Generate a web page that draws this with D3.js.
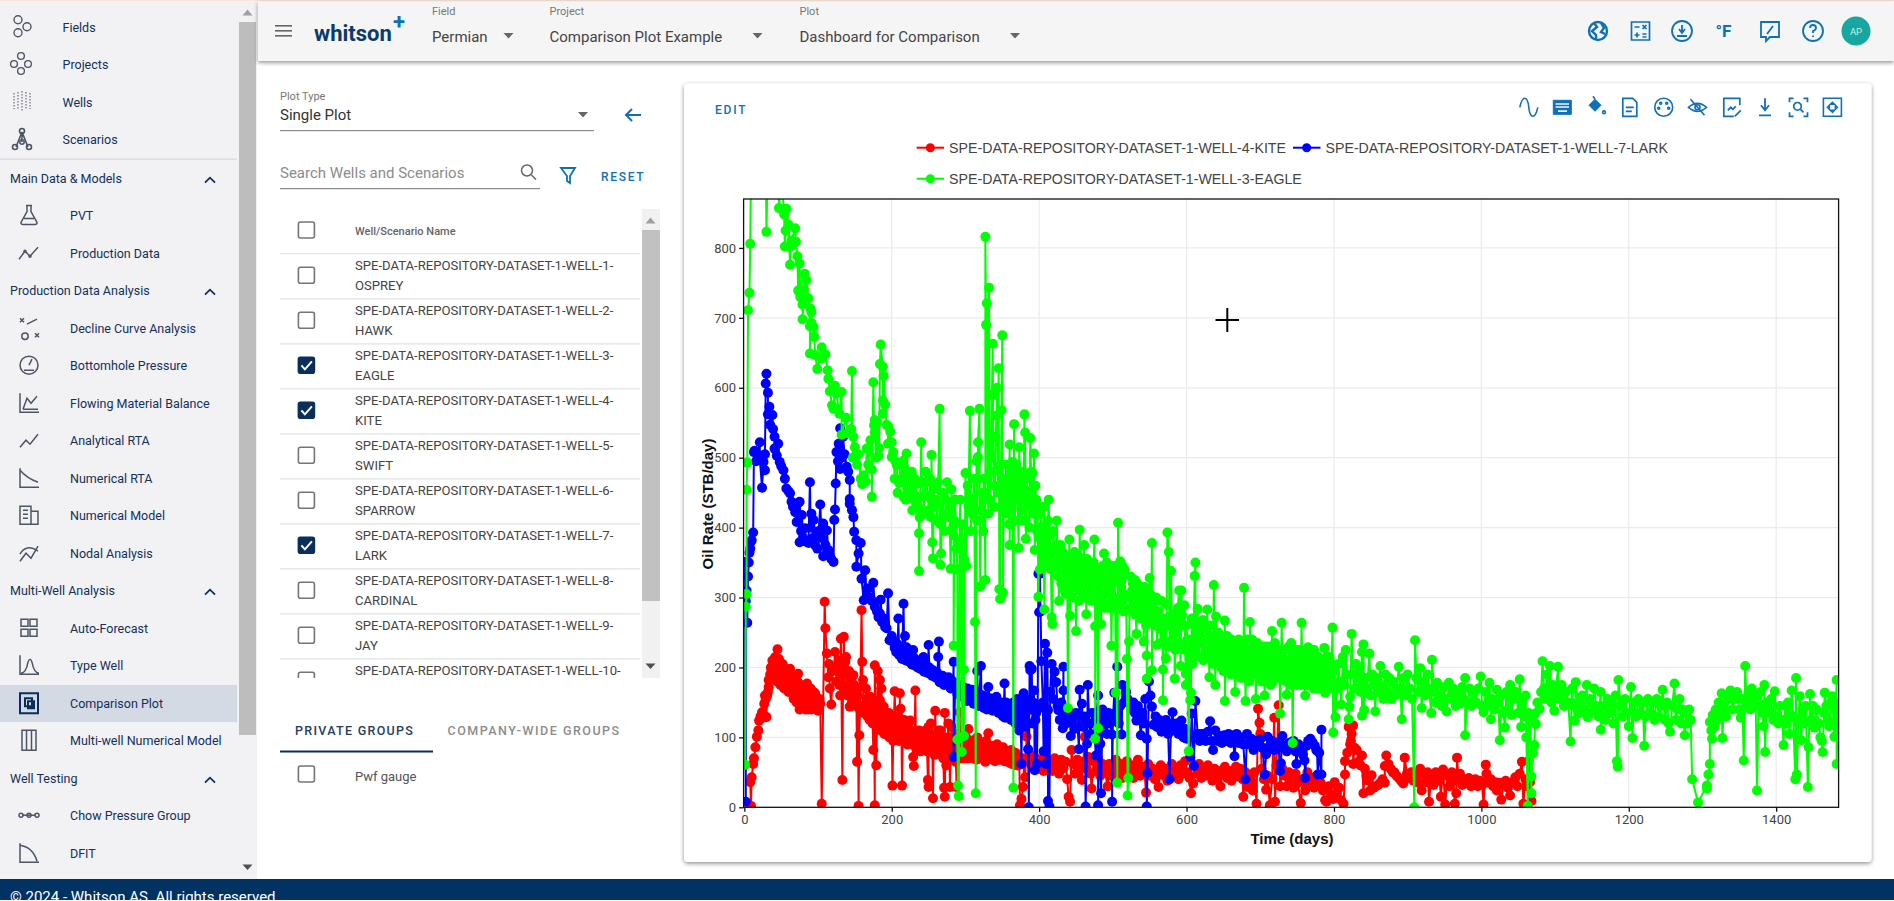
<!DOCTYPE html>
<html>
<head>
<meta charset="utf-8">
<title>Comparison Plot</title>
<script src="https://cdn.jsdelivr.net/npm/d3@7"></script>
<style>
  html, body { margin: 0; padding: 0; background: #fff; overflow: hidden; }
  svg { display: block; font-family: Roboto, sans-serif; }
  .plot-axis text { font-family: Roboto, sans-serif; font-size: 13px; fill: #444; }
  .plot-axis path { display: none; }
  .plot-axis line { stroke: #111; stroke-width: 1.3; }
</style>
</head>
<body>
<script>
// Chart values: [day, oil rate in STB/day]
const kiteA = [[9,2],[8,36],[10,43],[12,62],[13,70],[15,86],[17,101],[19,110],[20,124],[22,130],[24,136],[25,128],[27,148],[29,155],[30,129],[31,160],[33,172],[33,182],[35,190],[37,196],[38,210],[40,205],[42,215],[45,226],[47,212],[48,206],[50,196],[51,186],[53,192],[55,180],[57,186],[59,190],[62,198],[64,180],[66,167],[68,185],[70,172],[73,191],[73,160],[75,140],[77,175],[79,165],[82,158],[84,170],[85,177],[87,140],[89,160],[92,150],[94,165],[96,163],[98,145],[100,138],[102,155],[103,148]];
const kiteB = [[105,5],[109,294],[110,256],[112,220],[114,186],[115,205],[116,170],[118,147],[120,195],[123,222],[125,180],[128,210],[130,205],[130,160],[131,241],[133,39],[135,244],[137,208],[139,191],[141,175],[143,144],[145,185],[148,189],[150,165],[152,155],[153,65],[155,2],[156,103],[159,282],[160,208],[160,172],[161,182],[164,148],[166,155],[168,140],[171,158],[173,130],[175,82],[177,3],[177,203],[179,60],[181,195],[182,140],[184,182],[184,153],[186,170],[187,125],[189,144],[191,118],[193,129],[193,104],[196,135],[199,118],[201,31],[203,125],[204,166],[206,110],[209,130],[211,163],[211,101],[212,141],[214,31],[216,120],[219,105],[222,115],[225,124],[227,98],[229,72],[230,59],[232,167],[234,105],[237,110],[240,90]];
const kiteC = [[243,96],[246,110],[249,39],[250,29],[250,115],[252,95],[254,82],[256,13],[257,100],[259,138],[261,105],[264,85],[266,110],[269,90],[271,28],[272,135],[272,15],[274,60],[276,100],[279,29],[281,115],[283,80],[285,100],[288,29],[290,105],[292,136],[294,85],[296,100],[298,72],[300,95],[302,85],[304,112],[306,78],[308,95],[311,96],[313,72],[316,100],[318,80],[321,92],[323,70],[325,85],[328,95],[331,106],[333,75],[336,88],[338,82],[341,72],[343,90],[346,76],[349,85],[351,86],[354,72],[357,80],[360,70],[362,82],[365,72],[368,78],[371,68],[374,3],[376,12],[378,29],[380,70],[381,43],[383,101],[385,65],[388,75],[390,60],[392,72],[394,58],[396,70]];
const kiteD = [[398,62],[401,55],[403,68],[406,52],[409,70],[412,58],[415,66],[418,52],[421,70],[424,60],[427,48],[430,68],[433,56],[436,65],[438,40],[440,15],[442,8],[444,82],[446,62],[449,48],[452,68],[455,55],[458,39],[460,65],[462,101],[464,55],[467,72],[470,48],[471,27],[474,66],[477,52],[480,70],[483,45],[486,62],[489,52],[493,30],[495,62],[498,45],[501,60],[504,68],[507,50],[510,62],[513,42],[516,58],[519,66],[522,48],[525,60],[528,42],[531,56],[534,68],[537,45],[540,58],[543,50],[545,21],[548,62],[551,45],[554,55],[557,40],[560,52],[562,29],[565,60],[568,46],[571,55],[574,38],[577,52],[580,62],[583,45],[586,56],[589,40],[592,60],[595,48],[598,66],[601,50],[604,42],[606,20],[609,34],[611,60],[614,48],[617,62],[620,42],[623,55],[626,45],[629,60],[632,50],[635,38],[638,55],[641,42],[644,52],[646,30],[649,48],[652,58],[655,42],[658,52],[661,38],[664,50],[667,58],[670,44],[673,55],[676,40],[677,15],[680,50],[682,29],[685,40],[688,35],[690,24],[692,50],[695,5],[697,141],[699,121],[700,105]];
const kiteE = [[702,55],[705,40],[708,25],[710,45],[713,3],[716,40],[719,128],[720,8],[722,60],[725,146],[727,30],[730,55],[733,45],[736,30],[739,50],[742,38],[745,28],[748,48],[751,35],[755,6],[758,40],[761,24],[764,50],[767,36],[770,42],[773,28],[776,44],[779,30],[782,35],[785,24],[788,10],[790,8],[793,30],[796,18],[799,12],[801,36],[804,20],[807,28],[810,10],[813,5],[815,47],[815,66],[818,78],[820,115],[822,90],[823,95],[824,105],[826,117],[826,62],[828,85],[831,82],[833,65],[836,60],[838,74],[840,20],[842,55],[844,45],[847,38],[849,24],[851,46],[854,28],[857,30],[860,32],[863,35],[866,40],[869,35],[869,59],[871,74],[874,62],[877,55],[880,50],[882,50],[885,45],[888,42],[891,38],[894,34],[896,71],[899,48],[902,42],[905,50],[908,38],[911,45],[914,35],[917,55],[919,24],[922,48],[925,36],[927,50],[929,8],[932,45],[935,32],[938,50],[941,38],[943,48],[945,15],[948,54],[951,4],[954,45],[957,30],[960,50],[962,38],[964,5],[966,20],[967,71],[969,40],[971,48],[974,32],[977,40],[980,35],[983,42],[986,30],[989,36],[992,40],[995,30],[998,38],[1001,32],[1003,4],[1006,61],[1007,48],[1010,35],[1013,40],[1016,30],[1019,36],[1021,24],[1024,35],[1027,11],[1030,32],[1033,38],[1036,28],[1039,17],[1042,35],[1046,43],[1049,30],[1052,48],[1055,65],[1057,5],[1060,40],[1062,30],[1064,66],[1066,36],[1068,9]];
const kiteBand1 = [[28,160],[32,165],[36,200],[39,185],[41,195],[43,205],[44,180],[46,195],[49,175],[52,205],[54,170],[56,195],[58,175],[60,165],[61,185],[63,170],[65,190],[67,155],[69,165],[71,150],[72,180],[74,170],[76,155],[78,145],[80,170],[81,150],[83,140],[86,160],[88,145],[90,170],[91,140],[93,155],[95,145],[97,155],[99,150],[101,145]];
const kiteBand2 = [[122,200],[126,195],[129,175],[134,190],[136,170],[138,215],[140,160],[142,195],[144,165],[146,150],[149,175],[151,145],[154,160],[157,140],[162,135],[165,170],[167,130],[169,150],[170,125],[172,145],[174,120],[176,150],[178,135],[180,120],[183,130],[185,110],[188,140],[190,105],[192,125],[195,115],[197,100],[198,130],[200,110],[202,95],[205,125],[207,100],[208,120],[210,95],[213,115],[215,100],[217,125],[218,95],[220,110],[221,90],[223,105],[224,95],[226,110],[228,90],[231,105],[233,85],[235,100],[236,90],[238,105],[239,80]];
const kiteBand3 = [[241,105],[244,85],[245,100],[247,90],[248,80],[251,105],[253,120],[255,90],[258,75],[260,95],[262,80],[263,110],[265,95],[267,75],[268,100],[270,70],[273,95],[275,80],[277,120],[278,85],[280,70],[282,95],[284,75],[286,85],[287,65],[289,90],[291,75],[293,95],[295,70],[297,85],[299,70],[301,100],[303,70],[305,90],[307,75],[309,85],[310,70],[312,90],[314,78],[315,68],[317,90],[319,74],[320,85],[322,72],[324,90],[326,75],[327,65],[329,85],[330,72],[332,88],[334,70],[335,82],[337,68],[339,78],[340,66],[342,80],[344,68],[345,78],[347,68],[348,80],[350,70],[352,78],[353,66],[355,76],[356,66],[358,74],[359,64],[361,72],[363,62],[364,72],[366,62],[367,70],[369,60],[370,72],[372,60],[373,70]];

const larkA = [[1,351],[2,8],[2,295],[3,310],[4,264],[5,330],[6,350],[7,364],[8,370],[9,380],[10,382],[12,393],[13,508],[14,510],[16,495],[18,505],[21,522],[21,498],[24,457],[26,494],[28,482],[28,505],[29,606],[30,620],[32,593],[32,562],[34,573],[35,547],[38,561],[39,541],[41,530],[41,513],[44,503],[46,520],[48,494],[50,488],[53,482],[55,470],[57,456],[60,452],[62,449],[64,437]];
const larkB = [[66,430],[69,422],[71,408],[73,435],[75,379],[75,437],[77,395],[78,418],[80,385],[82,399],[84,380],[87,378],[89,465],[90,400],[91,420],[93,385],[94,411],[96,375],[99,370],[101,395],[103,433],[105,385],[107,406],[107,359],[110,375],[112,396],[114,368],[116,360],[118,355],[121,351],[122,411],[123,426]];
const larkC = [[124,463],[125,508],[127,495],[128,520],[130,542],[130,484],[132,500],[134,530],[136,505],[139,487],[141,480],[143,468],[143,441],[143,434],[146,425],[148,415],[149,394],[152,382],[152,344],[155,363],[158,378],[159,327],[162,296],[164,339],[166,301],[168,313],[171,300],[173,295],[175,321],[177,287],[180,280],[182,272],[184,277],[185,297],[187,265],[189,270],[191,258],[193,256],[195,306],[197,239]];
const larkD = [[200,245],[203,235],[205,228],[207,234],[209,270],[211,222],[213,215],[216,291],[218,245],[220,229],[222,215],[225,222],[227,205],[229,225],[232,210],[235,200],[238,206],[241,198],[243,215],[246,205],[248,195],[250,232],[252,196],[255,188],[258,192],[261,185],[263,215],[264,237],[265,179],[268,186],[271,175],[274,182],[277,186],[280,170],[282,175],[284,208],[284,72],[286,170],[289,162],[291,168],[293,172],[296,158],[299,165],[302,152],[305,160],[308,158],[311,148],[314,155],[316,195],[318,145],[321,202],[323,150],[325,142],[327,158],[329,140],[331,172],[334,148],[337,138],[340,150],[342,158],[345,135],[348,145],[351,130],[353,177],[354,128],[356,148],[359,135],[362,125],[365,150],[368,120],[370,155],[373,110],[376,62],[378,140],[379,163],[381,115],[383,150],[385,83],[386,0],[387,202],[388,196],[390,198],[391,120],[393,167],[394,53],[396,135],[397,62],[399,334],[400,279]];
const larkE = [[401,334],[402,280],[403,209],[405,150],[406,80],[408,234],[409,62],[411,221],[412,139],[412,9],[414,1],[415,165],[417,205],[419,155],[421,194],[423,179],[425,145],[426,139],[428,125],[430,150],[432,113],[433,201],[433,167],[435,130],[437,120],[439,140],[442,129],[443,102],[445,125],[448,112],[450,135],[452,118],[454,83],[455,168],[457,125],[458,148],[460,115],[462,130],[463,1],[465,91],[466,175],[468,120],[470,105],[472,135],[474,120],[477,74],[478,135],[480,160],[480,3],[482,125],[483,91],[484,20],[486,140],[488,118],[490,130],[492,105],[494,135],[496,120],[499,104],[499,8],[500,124],[502,164],[504,135],[506,201],[508,120],[510,145],[512,104],[513,175],[515,150],[518,165]];
const larkF = [[520,155],[523,148],[525,140],[528,150],[530,135],[532,124],[534,145],[536,125],[538,103],[540,135],[542,120],[544,155],[546,98],[546,1],[547,49],[549,180],[551,160],[553,144],[555,118],[558,130],[560,115],[563,125],[566,108],[569,115],[572,125],[575,105],[577,40],[579,118],[581,136],[583,110],[586,120],[589,105],[591,115],[593,124],[596,100],[598,112],[600,98],[602,105],[605,72],[607,134],[610,59],[612,152],[615,105],[618,95],[620,105],[623,105],[626,95],[629,108],[632,123],[634,95],[636,82],[639,110],[642,95],[645,102],[648,92],[651,103],[654,95],[657,105],[660,92],[663,100],[665,73],[668,105],[671,92],[674,100],[677,90],[680,40],[682,105],[685,90],[688,98],[691,82],[694,95],[697,88],[700,97],[703,85],[706,47],[708,76],[710,101],[713,88],[716,95],[719,82],[722,92],[725,85],[727,52],[728,63],[730,102],[733,88],[736,80],[739,92],[742,85],[745,95],[748,80],[749,62],[752,90],[755,82],[758,75],[760,67],[761,42],[763,88],[765,95],[768,98],[771,93],[774,88],[776,82],[777,81],[778,47],[780,78],[783,47],[783,111]];
const larkBand = [[201,240],[204,228],[206,222],[208,232],[210,218],[212,226],[214,212],[217,220],[219,210],[221,222],[224,208],[226,216],[228,204],[230,214],[233,202],[236,210],[239,198],[242,206],[244,194],[247,202],[249,192],[251,200],[253,190],[256,196],[259,186],[262,192],[266,180],[269,188],[272,178],[275,184],[278,174],[281,182],[283,172],[287,178],[290,165],[292,175],[294,162],[297,172],[300,160],[303,170],[306,158],[309,168],[312,155],[315,165],[317,152],[319,162],[322,150],[324,160],[326,148],[328,158],[330,146],[333,156],[335,144],[338,154],[341,142],[343,152],[346,140],[349,150],[352,140],[355,150],[357,138],[360,148],[363,136],[366,146],[369,132],[372,145],[375,125],[377,150],[380,130],[382,155],[384,120],[389,140],[392,150],[395,125],[398,140]];

const eagleA = [[1,61],[2,287],[3,305],[3,454],[4,493],[5,711],[7,736],[8,806],[9,905],[14,990],[22,1010],[29,930],[30,823],[32,930],[41,960],[46,900],[47,857],[49,885],[52,880],[54,848],[56,825],[55,802],[57,856],[60,833],[62,776],[63,802],[64,811],[69,828],[70,809],[72,788],[73,739],[75,778],[76,730],[79,719],[79,698],[81,741],[82,763],[84,754],[87,728],[89,688],[89,649],[90,713],[91,708],[91,693],[94,687],[95,673],[96,647],[99,627],[105,658],[105,642],[110,648]];
const eagleB = [[113,625],[114,613],[116,595],[119,575],[121,570],[123,603],[125,592],[129,563],[132,594],[132,533],[138,557],[140,535],[145,541],[146,624],[147,500],[148,530],[150,515],[153,490],[155,505],[158,470],[160,462],[162,475],[165,466],[166,513],[168,490],[171,525],[173,483],[173,444],[175,608],[176,546],[177,536],[177,554],[179,500],[180,551],[182,503],[183,514],[184,634],[185,662],[188,630],[188,582],[188,563],[189,617],[191,576],[193,547],[195,545],[195,520],[198,537],[200,522],[200,501]];
const eagleC = [[202,508],[205,495],[207,489],[210,464],[213,470],[216,496],[216,444],[218,485],[220,506],[223,455],[227,480],[230,440],[233,462],[236,430],[237,392],[237,338],[240,522],[243,445],[247,465],[250,425],[254,504],[255,379],[256,356],[258,440],[262,410],[265,570],[266,347],[267,363],[270,420],[274,439],[277,415],[280,341],[283,400],[284,389],[284,231],[286,440],[288,370],[289,340],[289,97],[290,31],[291,16],[292,380],[295,79],[298,102],[298,197],[299,354],[300,478],[301,345],[304,430],[306,567],[309,420],[313,265],[314,20],[315,495],[317,501],[317,522],[319,570],[320,316],[323,450],[325,470],[327,325],[327,816],[328,690],[329,721],[331,420],[332,743],[334,480],[336,590],[337,663],[339,430],[341,530],[343,600],[345,628],[346,312],[347,298],[349,568],[350,675],[351,307],[353,460],[356,430],[358,490],[360,519],[360,375],[362,440],[364,494],[365,28],[366,548],[368,450],[370,470],[372,371],[373,515],[375,411],[377,460],[379,440],[380,562],[381,536],[382,384],[384,450],[386,430],[388,528],[390,455],[391,478],[393,506],[394,368],[396,440],[399,301]];
const eagleD = [[400,385],[402,420],[404,360],[406,430],[407,283],[409,400],[411,350],[413,440],[415,390],[417,272],[418,262],[420,370],[422,345],[424,410],[426,330],[427,295],[429,375],[431,340],[433,352],[435,310],[437,360],[439,142],[441,383],[442,274],[444,345],[446,320],[448,365],[450,252],[452,335],[453,360],[455,397],[457,310],[459,345],[461,375],[464,276],[466,330],[468,350],[470,300],[472,340],[475,383],[476,259],[476,98],[478,300],[480,113],[481,330],[484,262],[486,345],[488,363],[490,305],[492,350],[494,290],[496,335],[498,231],[500,320],[502,345],[504,164],[506,35],[507,407],[509,300],[510,352],[512,325],[514,280],[516,340],[518,300],[519,212],[520,17],[521,42],[522,237],[524,330],[526,310],[528,290],[530,325],[532,248],[534,300],[536,280],[538,315],[540,295],[542,237],[544,275],[546,217],[546,184],[548,290],[550,328],[552,270],[553,378],[553,196],[555,285],[557,260],[559,300]];
const eagleE = [[560,232],[562,280],[564,255],[566,295],[568,197],[568,153],[570,270],[572,213],[574,393],[576,365],[578,260],[579,338],[581,240],[583,275],[584,184],[586,250],[588,285],[590,310],[592,202],[593,310],[595,260],[597,289],[599,191],[599,175],[601,240],[603,80],[605,153],[606,164],[608,205],[610,270],[611,331],[612,350],[612,225],[614,255],[615,284],[617,235],[619,260],[621,215],[622,268],[624,240],[625,221],[627,255],[628,283],[630,225],[631,186],[633,245],[635,215],[637,318],[639,175],[640,273],[642,235],[644,205],[646,245],[648,220],[650,195],[652,267],[652,152],[654,230],[656,205],[658,240],[660,190],[662,225],[664,205],[666,165],[668,235],[670,200],[672,225],[674,185],[676,215],[678,314],[680,152],[682,240],[684,205],[686,265],[688,190],[690,225],[692,200],[694,155],[696,235],[698,195],[700,220],[702,180],[704,210],[706,160],[708,230],[710,190],[712,215],[714,175],[716,252],[716,178],[718,205],[720,235],[722,185],[724,215],[726,195],[727,134],[729,264],[731,200],[733,225],[735,180],[736,161],[738,210],[740,190],[742,235],[744,92],[746,195],[748,225],[750,175],[752,215],[754,190],[756,264],[758,205],[760,175],[761,160],[763,220],[765,229],[767,185],[769,210],[771,180],[773,225],[775,195],[777,170],[779,215],[781,185],[783,205],[785,175],[787,228],[788,164],[790,200],[792,175],[794,215],[796,185],[798,257],[799,107]];
const eagleF = [[800,195],[802,129],[804,170],[806,205],[808,180],[810,147],[812,215],[814,175],[816,225],[818,190],[820,126],[821,144],[822,158],[824,248],[826,190],[828,170],[830,205],[832,180],[834,195],[836,165],[838,222],[838,131],[840,233],[841,139],[843,185],[845,170],[848,220],[850,160],[852,190],[854,175],[856,137],[858,185],[860,165],[863,202],[865,175],[867,155],[870,190],[872,165],[875,185],[878,155],[881,180],[884,160],[888,201],[890,170],[892,126],[894,185],[897,160],[900,190],[903,170],[906,155],[909,0],[910,239],[912,185],[914,165],[917,199],[919,142],[921,180],[924,160],[927,190],[929,170],[932,135],[933,211],[936,165],[938,150],[940,178],[943,160],[946,145],[949,172],[951,155],[953,137],[956,178],[959,155],[962,170],[965,145],[968,165],[971,148],[974,172],[976,155],[978,185],[978,103],[981,150],[984,170],[987,145],[990,165],[993,150],[996,170],[999,187],[1001,145],[1003,136],[1006,165],[1008,145],[1011,178],[1013,126],[1015,155],[1018,140],[1021,168],[1023,150],[1025,96],[1028,160],[1030,135],[1032,114],[1034,165],[1036,140],[1039,175],[1041,132],[1044,155],[1047,165],[1050,135],[1052,183],[1054,115],[1056,150],[1058,130],[1060,160],[1061,100],[1063,2],[1064,135],[1066,125],[1068,20],[1068,44],[1070,77],[1072,89],[1073,134],[1074,119],[1076,150],[1079,141],[1081,165],[1083,209]];
const eagleG = [[1085,170],[1087,155],[1089,190],[1091,160],[1093,202],[1095,150],[1097,175],[1099,138],[1101,165],[1104,201],[1106,155],[1109,175],[1112,145],[1115,165],[1118,150],[1121,94],[1123,170],[1125,145],[1127,124],[1128,179],[1131,150],[1134,135],[1137,160],[1140,140],[1143,175],[1144,129],[1147,155],[1150,135],[1153,170],[1156,145],[1159,130],[1162,165],[1162,111],[1165,145],[1168,125],[1171,155],[1174,135],[1177,150],[1179,120],[1182,160],[1184,66],[1185,58],[1186,182],[1189,145],[1192,130],[1195,155],[1198,135],[1200,116],[1203,172],[1205,99],[1207,150],[1210,130],[1213,155],[1216,135],[1219,150],[1221,88],[1223,130],[1226,155],[1229,135],[1232,150],[1235,125],[1238,155],[1241,130],[1244,145],[1246,168],[1249,125],[1252,150],[1254,120],[1256,108],[1259,145],[1262,177],[1264,125],[1266,140],[1269,155],[1271,120],[1273,140],[1276,103],[1278,135],[1280,120],[1282,140],[1284,125],[1286,40],[1294,7]];
const eagleH = [[1306,31],[1306,27],[1308,47],[1310,62],[1310,122],[1312,110],[1313,98],[1314,132],[1316,115],[1318,140],[1320,125],[1322,150],[1324,135],[1326,163],[1327,99],[1329,145],[1332,130],[1335,155],[1338,167],[1341,140],[1344,155],[1347,165],[1350,140],[1352,128],[1354,155],[1356,67],[1358,202],[1360,145],[1363,160],[1365,140],[1367,170],[1370,150],[1372,160],[1374,24],[1376,145],[1379,165],[1381,135],[1383,116],[1384,175],[1385,79],[1387,150],[1390,135],[1393,155],[1396,125],[1398,166],[1400,130],[1403,120],[1405,145],[1408,125],[1410,89],[1412,145],[1414,120],[1416,150],[1418,105],[1421,167],[1423,130],[1426,40],[1427,185],[1428,47],[1430,120],[1432,159],[1434,96],[1436,140],[1438,120],[1440,145],[1443,29],[1444,86],[1446,162],[1448,125],[1450,145],[1452,114],[1455,140],[1458,120],[1460,100],[1462,95],[1463,79],[1465,135],[1466,164],[1468,145],[1470,125],[1472,116],[1474,150],[1476,159],[1478,120],[1479,101],[1481,140],[1482,182],[1482,62],[1484,130],[1486,150]];
const eagleBand1 = [[204,470],[208,450],[212,490],[215,465],[219,440],[222,475],[225,450],[228,425],[231,470],[234,445],[238,415],[241,465],[244,420],[246,480],[249,445],[252,470],[253,415],[257,455],[260,430],[263,465],[266,405],[269,450],[272,395],[275,465],[278,430],[281,455],[285,410],[293,440],[296,405],[303,460],[307,395],[310,440],[312,470],[316,410],[321,425],[324,395],[326,450],[330,470],[333,440],[335,500],[338,480],[340,460],[342,560],[344,450],[347,490],[348,430],[352,470],[354,420],[355,490],[357,450],[359,405],[361,480],[363,430],[366,470],[367,410],[369,490],[371,440],[374,460],[376,425],[378,480],[380,410],[383,470],[385,440],[387,400],[389,480],[392,420],[395,460],[397,395],[398,430]];
const eagleBand2 = [[401,340],[403,400],[405,375],[408,350],[410,385],[412,410],[414,365],[416,340],[419,395],[421,355],[423,375],[425,345],[428,360],[430,320],[432,365],[434,335],[436,305],[438,345],[440,320],[443,360],[445,300],[447,340],[449,315],[451,350],[454,295],[456,335],[458,310],[460,350],[462,300],[463,330],[465,355],[467,305],[469,335],[471,295],[473,325],[474,350],[477,310],[479,340],[482,295],[483,320],[485,300],[487,330],[489,285],[491,325],[493,310],[495,285],[497,345],[499,300],[501,285],[503,325],[505,290],[508,335],[511,295],[513,345],[515,305],[517,285],[523,300],[525,280],[527,320],[529,300],[531,275],[533,320],[535,295],[537,270],[539,305],[541,280],[543,315],[545,260],[547,300],[549,275],[551,305],[554,265],[556,300],[558,270]];
const eagleBand3 = [[561,265],[565,235],[569,260],[573,290],[577,230],[580,275],[585,225],[587,265],[591,235],[594,275],[598,225],[600,260],[604,240],[607,270],[609,225],[613,245],[616,215],[618,255],[620,235],[623,210],[626,240],[629,215],[632,260],[634,230],[636,205],[638,245],[641,215],[643,250],[645,225],[647,200],[649,240],[651,215],[653,195],[655,245],[657,220],[659,200],[661,240],[663,195],[665,225],[667,190],[669,215],[671,240],[673,195],[675,230],[677,190],[679,220],[681,200],[683,225],[685,180],[687,215],[689,240],[691,190],[693,220],[695,195],[697,215],[699,185],[701,205],[703,230],[705,190],[707,215],[709,200],[711,185],[713,230],[715,200],[717,225],[719,185],[721,215],[723,195],[725,225],[728,185],[730,215],[732,190],[734,210],[737,195],[739,230],[741,175],[743,205],[745,215],[747,180],[749,205],[751,190],[753,225],[755,175],[757,210],[759,190],[762,200],[764,175],[766,205],[768,190],[770,220],[772,170],[774,205],[776,185],[778,195],[780,170],[782,210],[784,190],[786,200],[789,180],[791,215],[793,190],[795,170],[797,205]];

const seriesNames = ["SPE-DATA-REPOSITORY-DATASET-1-WELL-4-KITE", "SPE-DATA-REPOSITORY-DATASET-1-WELL-7-LARK", "SPE-DATA-REPOSITORY-DATASET-1-WELL-3-EAGLE"];
const seriesColors = ["#ff0000", "#0000ff", "#00ff00"];
const seriesValues = [
    [kiteA, kiteB, kiteC, kiteD, kiteE, kiteBand1, kiteBand2, kiteBand3].flat(),
    [larkA, larkB, larkC, larkD, larkE, larkF, larkBand].flat(),
    [eagleA, eagleB, eagleC, eagleD, eagleE, eagleF, eagleG, eagleH, eagleBand1, eagleBand2, eagleBand3].flat()
].map(values => values.sort((a, b) => a[0] - b[0]));
const xTicks = [0, 200, 400, 600, 800, 1000, 1200, 1400];
const yTicks = [0, 100, 200, 300, 400, 500, 600, 700, 800];

// Menu and table texts of the surrounding app
const topMenu = [["Fields", 27.7], ["Projects", 64.7], ["Wells", 102], ["Scenarios", 139.7]];
const menuHeads = [["Main Data & Models", 178.7], ["Production Data Analysis", 290.7], ["Multi-Well Analysis", 590.7], ["Well Testing", 778.7]];
const menuItems = [["PVT", 215, "pvt"], ["Production Data", 253.7, "trend"], ["Decline Curve Analysis", 328.7, "dca"], ["Bottomhole Pressure", 365.7, "gauge"], ["Flowing Material Balance", 403.7, "fmb"], ["Analytical RTA", 440.7, "trend2"], ["Numerical RTA", 478.7, "nrta"], ["Numerical Model", 515.7, "grid3"], ["Nodal Analysis", 553.7, "nodal"], ["Auto-Forecast", 628.7, "squares"], ["Type Well", 665.7, "bell"], ["Comparison Plot", 703.7, "compare"], ["Multi-well Numerical Model", 740.7, "columns"], ["Chow Pressure Group", 815.7, "chow"], ["DFIT", 853.7, "dfit"]];
const wellRows = [["1-", "OSPREY", 0], ["2-", "HAWK", 0], ["3-", "EAGLE", 1], ["4-", "KITE", 1], ["5-", "SWIFT", 0], ["6-", "SPARROW", 0], ["7-", "LARK", 1], ["8-", "CARDINAL", 0], ["9-", "JAY", 0], ["10-", "", 0]];

// Define variables
const width = 1894, height = 901;
const plot = {left: 743.6, right: 1838.6, top: 199, bottom: 807.3};
const navy = "#0b2f5b", blue = "#0e70b8", menuText = "#12305a", iconGrey = "#4d5564";

const svg = d3.select("body").append("svg").attr("width", width).attr("height", height);

function rect(p, x, y, w, h, fill) {
    return p.append("rect").attr("x", x).attr("y", y).attr("width", w).attr("height", h).attr("fill", fill);
}
function label(p, str, x, y, size, color, weight) {
    return p.append("text").attr("x", x).attr("y", y).attr("dominant-baseline", "central")
        .attr("font-size", size).attr("fill", color).attr("font-weight", weight || 400).text(str);
}
function tri(p, x, y, color, up) {
    const d = up ? "M-5,3L5,3L0,-3Z" : "M-5,-2.5L5,-2.5L0,3Z";
    p.append("path").attr("transform", `translate(${x},${y})`).attr("d", d).attr("fill", color);
}
function chevron(p, x, y) {
    p.append("path").attr("transform", `translate(${x},${y})`).attr("d", "M-5,3L0,-2L5,3").attr("fill", "none").attr("stroke", navy).attr("stroke-width", 1.8);
}
function checkbox(p, x, y, checked) {
    p.append("rect").attr("x", x - 8).attr("y", y - 8).attr("width", 16).attr("height", 16).attr("rx", 2)
        .attr("fill", checked ? navy : "#fff").attr("stroke", checked ? navy : "#757575").attr("stroke-width", 1.6);
    if (checked) p.append("path").attr("d", `M${x-5},${y}L${x-1.5},${y+4}L${x+5.5},${y-4}`).attr("fill", "none").attr("stroke", "#fff").attr("stroke-width", 2);
}
// draws a small icon from line paths and circles, centred on x,y
function icon(p, x, y, color, lines, circles, width_, filled) {
    const g = p.append("g").attr("transform", `translate(${x},${y})`).attr("fill", "none").attr("stroke", color).attr("stroke-width", width_ || 1.5);
    (lines || []).forEach(d => g.append("path").attr("d", d));
    (circles || []).forEach(c => g.append("circle").attr("cx", c[0]).attr("cy", c[1]).attr("r", c[2]));
    if (filled) g.attr("fill", color);
    return g;
}

//////////////////////////////////////////////////////////////////////////////////////////
//                                        App frame                                     //
//////////////////////////////////////////////////////////////////////////////////////////

const defs = svg.append("defs");
const shadow = defs.append("filter").attr("id", "shadow").attr("x", "-5%").attr("y", "-5%").attr("width", "110%").attr("height", "115%");
shadow.append("feDropShadow").attr("dx", 0).attr("dy", 1.5).attr("stdDeviation", 2).attr("flood-color", "#000").attr("flood-opacity", 0.45);
defs.append("clipPath").attr("id", "plotClip").append("rect").attr("x", plot.left).attr("y", plot.top).attr("width", plot.right - plot.left).attr("height", plot.bottom - plot.top);
defs.append("clipPath").attr("id", "tableClip").append("rect").attr("x", 280).attr("y", 209).attr("width", 362).attr("height", 469);
defs.append("clipPath").attr("id", "footClip").append("rect").attr("x", 0).attr("y", 879).attr("width", width).attr("height", 21);

rect(svg, 0, 0, width, height, "#fff");
rect(svg, 0, 0, width, 1.5, "#f9e5d9");

// Sidebar
const side = svg.append("g");
rect(side, 0, 1, 257, 878, "#f2f2f4");
rect(side, 0, 685, 237, 37, "#d4dae4");
rect(side, 0, 158.5, 237, 1.2, "#d9d9dc");
rect(side, 239, 22, 17, 713, "#bdbdbd");
tri(side, 247.5, 12.5, "#a0a0a0", true);
tri(side, 247.5, 867, "#505050", false);
topMenu.forEach(d => label(side, d[0], 62.5, d[1], 12.5, menuText));
menuHeads.forEach(d => {
    label(side, d[0], 10, d[1], 12.5, menuText);
    chevron(side, 210, d[1] + 1);
});
menuItems.forEach(d => label(side, d[0], 70, d[1], 12.5, menuText));

// Sidebar icons
icon(side, 22, 26.7, iconGrey, [], [[-4,-7,4],[5,0,4],[-4,6,4]], 1.4);
icon(side, 21, 64, iconGrey, [], [[0,-8,3.4],[-7,0,3.4],[7,0,3.4],[0,7,3.4]], 1.3);
const wellDots = icon(side, 22, 101, "#8a8f99", ["M-8,-8V8M-4,-9V9M0,-10V10M4,-9V9M8,-8V8"], [], 1.6);
wellDots.attr("stroke-dasharray", "1.5 1.5");
icon(side, 22, 139, iconGrey, ["M0,-7L-6,8M0,-7L6,8M0,-7V3"], [[0,-8,2.5],[-7,8,2.5],[7,8,2.5],[0,3,2.2]], 1.6);
const menuIcons = {
    pvt: [["M-3,-9H3M-2,-9V-3L-8,8Q-8,10 -6,10H6Q8,10 8,8L2,-3V-9M-5,4H5"], []],
    trend: [["M-10,6L-4,-2L1,3L9,-6"], [[-4,-2,1],[1,3,1]]],
    dca: [["M-9,-10L-5,-6M-5,-10L-9,-6M6,5L10,9M10,5L6,9M-2,-4L8,-9"], [[-4,8,3.2]]],
    gauge: [["M0,0L3,-6M-5,5H5"], [[0,0,9]]],
    fmb: [["M-9,-10V9H10M-6,6L-2,-5L2,0L8,-7M-6,6H9"], []],
    trend2: [["M-9,7L-3,0L1,4L9,-6"], []],
    nrta: [["M-9,-10V9H10M-9,-8Q-2,0 9,4"], []],
    grid3: [["M-9,9V-9H2V9ZM2,-4H9V9H2M-6,-5H-1M-6,-1H-1M-6,3H-1"], []],
    nodal: [["M-9,1Q-3,-10 9,-2M-9,8L-3,0L2,5L9,-7"], []],
    squares: [["M-8,-9H-1V-2H-8ZM1,-9H8V-2H1ZM-8,1H-1V8H-8ZM1,1H8V8H1Z"], []],
    bell: [["M-9,-10V9H10M-8,8Q-3,8 -1,-3Q1,-9 3,-3Q5,8 10,8"], []],
    compare: [["M-9,-10H9V10H-9ZM-4,-5H3V3H-4ZM-1,-2H5V5H-1Z"], []],
    columns: [["M-7,-10H7V10H-7ZM-2.5,-10V10M2.5,-10V10"], []],
    chow: [["M-7,0H7"], [[-8,0,2],[0,0,2],[8,0,2]]],
    dfit: [["M-9,-10V9H10M-9,-8Q4,-6 8,8"], []]
};
menuItems.forEach(d => {
    const ic = menuIcons[d[2]];
    icon(side, 29, d[1] - 0.5, d[2] === "compare" ? navy : iconGrey, ic[0], ic[1], d[2] === "compare" ? 2 : 1.5);
});

// Header bar
const head = svg.append("g");
rect(head, 258, 1.5, width - 258, 59.5, "#f5f5f5").attr("filter", "url(#shadow)");
rect(head, 275, 25, 17, 1.6, "#666");
rect(head, 275, 30, 17, 1.6, "#666");
rect(head, 275, 35, 17, 1.6, "#666");
label(head, "whitson", 314, 33, 22, "#0a3a6c", 700);
label(head, "+", 399, 21, 22, "#0e70b8", 700).attr("text-anchor", "middle");
label(head, "Field", 432, 11.5, 11, "#777");
label(head, "Project", 549.5, 11.5, 11, "#777");
label(head, "Plot", 799.5, 11.5, 11, "#777");
label(head, "Permian", 432, 37, 15, "#444");
label(head, "Comparison Plot Example", 549.5, 37, 15, "#444");
label(head, "Dashboard for Comparison", 799.5, 37, 15, "#444");
tri(head, 508.5, 35.5, "#666");
tri(head, 757.5, 35.5, "#666");
tri(head, 1015, 35.5, "#666");

// Header icons
icon(head, 1598, 31, blue, ["M-4,-8L-1,-4L-6,0L-2,4V8M3,-8L6,-3L3,1L7,3"], [[0,0,9]], 2.4);
icon(head, 1640.5, 31, blue, ["M-9,-9H9V9H-9ZM-6,-4H-1M2,-6L6,-2M6,-6L2,-2M-6,4H-1M-3.5,1.5V6.5M2,3H6M2,6H6"], [], 1.7);
icon(head, 1682, 31, blue, ["M0,-6V1M-3,-2L0,2L3,-2M-5,5H5"], [[0,0,10]], 1.8);
label(head, "°F", 1715.5, 31, 17, blue, 700);
icon(head, 1770, 31, blue, ["M-9,-9H9V6H0L-4,10V6H-9ZM-3,3L3,-5"], [], 1.8);
icon(head, 1813, 31, blue, ["M-3,-3Q-3,-6 0,-6Q3,-6 3,-3Q3,-1 0,0V2M0,4.5V6"], [[0,0,10]], 1.8);
head.append("circle").attr("cx", 1856).attr("cy", 31).attr("r", 14.5).attr("fill", "#17a79e");
label(head, "AP", 1856, 31, 9.5, "#cfeeee").attr("text-anchor", "middle");

// Well selection panel
const panel = svg.append("g");
label(panel, "Plot Type", 280, 96, 11, "#777");
label(panel, "Single Plot", 280, 115, 15, "#333");
rect(panel, 280, 130, 314, 1.2, "#8a8a8a");
tri(panel, 583, 114.5, "#666");
icon(panel, 633, 115, blue, ["M8,0H-7M-1,-6L-7,0L-1,6"], [], 2);
label(panel, "Search Wells and Scenarios", 280, 173, 15, "#8c8c8c");
rect(panel, 280, 188, 260, 1.2, "#8a8a8a");
icon(panel, 528, 171.5, "#666", ["M3.5,3.5L8,8"], [[-1,-1,5.5]], 1.5);
icon(panel, 568, 175, blue, ["M-7,-7H7L2,1V8L-1,6V1Z"], [], 1.8);
label(panel, "RESET", 601, 177, 12, blue, 500).attr("letter-spacing", "1.7px");

// Table with its scrollbar
rect(panel, 642, 209, 18, 469, "#f1f1f1");
rect(panel, 642, 230, 18, 371, "#c1c1c1");
tri(panel, 650.5, 220.5, "#a0a0a0", true);
tri(panel, 650.5, 666, "#505050", false);
checkbox(panel, 306.4, 230, false);
label(panel, "Well/Scenario Name", 355, 231, 11, "#666", 500);
const table = panel.append("g").attr("clip-path", "url(#tableClip)");
rect(table, 280, 253, 360, 1.2, "#e2e2e2");
wellRows.forEach((row, i) => {
    const top = 253.3 + i * 45;
    label(table, "SPE-DATA-REPOSITORY-DATASET-1-WELL-" + row[0], 355, top + 12.5, 13.1, "#444");
    label(table, row[1], 355, top + 32.5, 13.1, "#444");
    checkbox(table, 306.4, top + 22, row[2] === 1);
    rect(table, 280, top + 45, 360, 1.2, "#e2e2e2");
});

// Group tabs
label(panel, "PRIVATE GROUPS", 295, 730.7, 12.5, "#24405f", 500).attr("letter-spacing", "1.3px");
label(panel, "COMPANY-WIDE GROUPS", 447.5, 730.7, 12.5, "#8c8c8c", 500).attr("letter-spacing", "1.5px");
rect(panel, 280, 750.5, 153, 2, navy);
checkbox(panel, 306.4, 774, false);
label(panel, "Pwf gauge", 355, 776, 13, "#555");

// Footer, its text is cut off by the window edge
rect(svg, 0, 879, width, 21, "#003263");
svg.append("g").attr("clip-path", "url(#footClip)").append("text").attr("x", 10).attr("y", 902)
    .attr("font-size", 15).attr("fill", "#fff").text("© 2024 - Whitson AS. All rights reserved");

//////////////////////////////////////////////////////////////////////////////////////////
//                                          Chart                                       //
//////////////////////////////////////////////////////////////////////////////////////////

// Card
rect(svg, 684, 83.5, 1187.5, 778.5, "#fff").attr("rx", 4).attr("filter", "url(#shadow)");
label(svg, "EDIT", 715, 110, 12, blue, 500).attr("letter-spacing", "1.8px");

// Card toolbar
const tools = svg.append("g");
const toolY = 107.3;
icon(tools, 1528.8, toolY, blue, ["M-9,0Q-7,-9 -4,-9Q-1,-9 0,0Q1,9 4,9Q7,9 9,0"], [], 1.6);
icon(tools, 1562.3, toolY, blue, ["M-9,-7H9V7H-9Z"], [], 1, true);
rect(tools, 1555.5, toolY - 4, 13.5, 1.4, "#fff");
rect(tools, 1555.5, toolY - 1, 13.5, 1.4, "#fff");
rect(tools, 1558, toolY + 3, 9, 1.6, "#fff");
icon(tools, 1596, toolY - 1, blue, ["M-7,-1L-1,-7L5,-1L-1,5Z"], [], 1, true);
icon(tools, 1596, toolY - 1, blue, ["M-3,-10L-1,-7"], [[8,6,1.4]], 1.6);
icon(tools, 1629.8, toolY, blue, ["M-7,-9H3L7,-5V9H-7ZM-4,0H4M-4,4H2"], [], 1.7);
icon(tools, 1663.7, toolY, blue, [], [[0,0,9],[-3,-4,1],[3,-4,1],[5,1,1],[-5,1,1]], 1.6);
icon(tools, 1697.5, toolY, blue, ["M-9,0Q0,-8 9,0Q0,8 -9,0ZM-7,-8L7,8"], [[0,0,2.5]], 1.6);
icon(tools, 1731.8, toolY, blue, ["M8,-2V-9H-8V9H2M-4,3L-1,0L1,2L4,-1M3,9L9,3"], [], 1.7);
icon(tools, 1765, toolY, blue, ["M0,-9V2M-4,-2L0,3L4,-2M-6,8H6"], [], 1.8);
icon(tools, 1798.5, toolY, blue, ["M-9,-5V-9H-5M5,-9H9V-5M9,5V9H5M-5,9H-9V5M2,2L5,5"], [[-1,-1,3.8]], 1.7);
icon(tools, 1832.4, toolY, blue, ["M-9,-9H9V9H-9ZM0,-5L-2,-3H2ZM0,5L-2,3H2ZM-5,0L-3,-2V2ZM5,0L3,-2V2Z"], [], 1.6);

// Set the ranges
const x = d3.scaleLinear().domain([-1, 1484.7]).range([plot.left, plot.right]);
const y = d3.scaleLinear().domain([0, 870]).range([plot.bottom, plot.top]);

// Grid lines
const grid = svg.append("g").attr("stroke", "#ebebeb").attr("stroke-width", 1.2);
grid.selectAll(".gx").data(xTicks.slice(1)).enter().append("line")
    .attr("x1", d => x(d)).attr("x2", d => x(d)).attr("y1", plot.top).attr("y2", plot.bottom);
grid.selectAll(".gy").data(yTicks.slice(1)).enter().append("line")
    .attr("x1", plot.left).attr("x2", plot.right).attr("y1", d => y(d)).attr("y2", d => y(d));

// Series, lines below markers, later wells on top
const traces = svg.append("g").attr("clip-path", "url(#plotClip)");
const line = d3.line().x(d => x(d[0])).y(d => y(d[1]));
seriesValues.forEach((values, i) => {
    const g = traces.append("g");
    g.append("path").datum(values).attr("d", line).attr("fill", "none").attr("stroke", seriesColors[i]).attr("stroke-width", 2);
    g.selectAll("circle").data(values).enter().append("circle")
        .attr("cx", d => x(d[0])).attr("cy", d => y(d[1])).attr("r", 5).attr("fill", seriesColors[i]);
});

// Frame and axes
svg.append("rect").attr("x", plot.left).attr("y", plot.top).attr("width", plot.right - plot.left).attr("height", plot.bottom - plot.top)
    .attr("fill", "none").attr("stroke", "#111").attr("stroke-width", 1.3);
svg.append("g").attr("class", "plot-axis").attr("transform", `translate(0,${plot.bottom})`)
    .call(d3.axisBottom(x).tickValues(xTicks).tickFormat(d3.format("d")).tickSize(4.5).tickPadding(3));
svg.append("g").attr("class", "plot-axis").attr("transform", `translate(${plot.left},0)`)
    .call(d3.axisLeft(y).tickValues(yTicks).tickFormat(d3.format("d")).tickSize(4.5).tickPadding(3));

// Axis labels
svg.append("text").attr("x", 1292).attr("y", 838).attr("text-anchor", "middle").attr("dominant-baseline", "central")
    .style("font-family", "Liberation Sans").style("font-weight", "bold").style("font-size", "15px").attr("fill", "#111").text("Time (days)");
svg.append("text").attr("transform", "translate(707,504) rotate(-90)").attr("text-anchor", "middle").attr("dominant-baseline", "central")
    .style("font-family", "Liberation Sans").style("font-weight", "bold").style("font-size", "15px").attr("fill", "#111").text("Oil Rate (STB/day)");

// Legend
const legendPos = [[916.6, 147.7], [1293, 147.7], [916.6, 178.7]];
seriesNames.forEach((name, i) => {
    const g = svg.append("g").attr("transform", `translate(${legendPos[i][0]},${legendPos[i][1]})`);
    g.append("line").attr("x1", 0).attr("x2", 27.5).attr("stroke", seriesColors[i]).attr("stroke-width", 2);
    g.append("circle").attr("cx", 13.7).attr("r", 4.5).attr("fill", seriesColors[i]);
    g.append("text").attr("x", 32.5).attr("dominant-baseline", "central")
        .style("font-family", "Liberation Sans").style("font-size", "14.2px").attr("fill", "#444").text(name);
});

// Mouse cursor in the plot
svg.append("path").attr("d", "M1215.5,320H1239M1227.3,308V332").attr("stroke", "#000").attr("stroke-width", 2);
</script>
</body>
</html>
